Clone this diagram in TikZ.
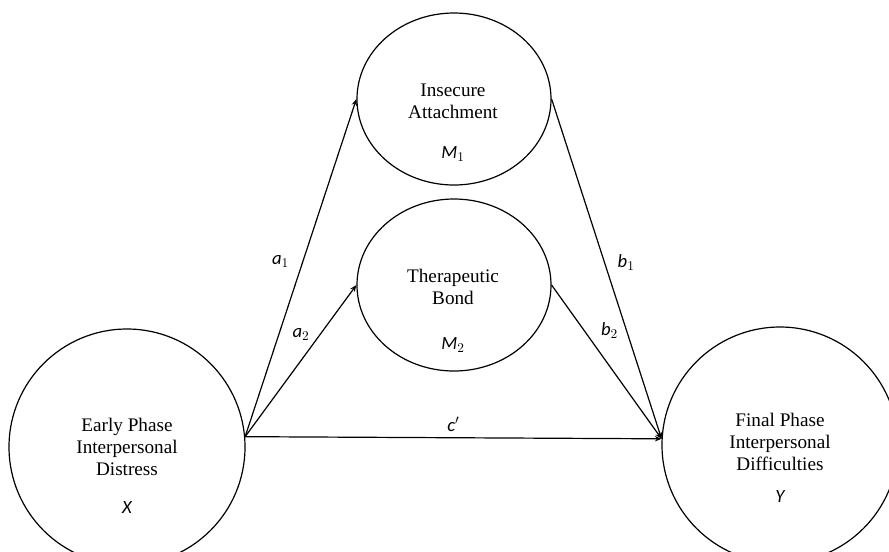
\documentclass[tikz,border=0pt]{standalone}
\usepackage{fontspec}
\setmainfont{Liberation Serif}
\newfontfamily\labelfont{Carlito}
\usetikzlibrary{shapes.geometric,arrows.meta,positioning}

\tikzset{
  bigvar/.style={draw, circle, line width=0.9pt, minimum size=177pt, inner sep=0pt},
  medvar/.style={draw, ellipse, line width=0.9pt, minimum width=145.5pt, minimum height=129pt, inner sep=0pt},
  vartext/.style={align=center, font=\fontsize{14.4}{16.5}\selectfont},
  varsym/.style={font=\labelfont\itshape\fontsize{14}{16}\selectfont},
  path/.style={-{Stealth[length=5pt,width=4pt]}, line width=0.9pt},
  pathlab/.style={font=\labelfont\itshape\fontsize{14}{16}\selectfont, inner sep=1pt}
}

\begin{document}
\begin{tikzpicture}[x=0.75pt, y=-0.75pt]
    \useasboundingbox (0,0) rectangle (889,551);

    % Predictor and outcome
    \node[bigvar] (X) at (127,447) {};
    \node[bigvar] (Y) at (780,445) {};
    \node[vartext] (xtxt) at (127,447) {Early Phase\\Interpersonal\\Distress};
    \node[varsym] (xsym) at (127,508) {X};
    \node[vartext] (ytxt) at (780,442) {Final Phase\\Interpersonal\\Difficulties};
    \node[varsym] (ysym) at (780,497) {Y};

    % Mediators
    \node[medvar] (M1) at (454,99) {};
    \node[medvar] (M2) at (454,285) {};
    \node[vartext] (m1txt) at (453,101) {Insecure\\Attachment};
    \node[varsym] (m1sym) at (453,154) {M$_1$};
    \node[vartext] (m2txt) at (453,287) {Therapeutic\\Bond};
    \node[varsym] (m2sym) at (453,345) {M$_2$};

    % Paths
    \draw[path] (X.5) -- node[pathlab, pos=0.52, left=9pt] (la1) {a$_1$} (M1.west);
    \draw[path] (X.5) -- node[pathlab, pos=0.62, above left=0pt and 2pt] (la2) {a$_2$} (M2.west);
    \draw[path] (M1.east) -- node[pathlab, pos=0.48, right=8.5pt] (lb1) {b$_1$} (Y.177);
    \draw[path] (M2.east) -- node[pathlab, pos=0.36, above right=0pt and 6pt] (lb2) {b$_2$} (Y.177);
    \draw[path] (X.5) -- node[pathlab, pos=0.5, above=3pt] (lc) {c$'$} (Y.177);
\end{tikzpicture}
\end{document}
